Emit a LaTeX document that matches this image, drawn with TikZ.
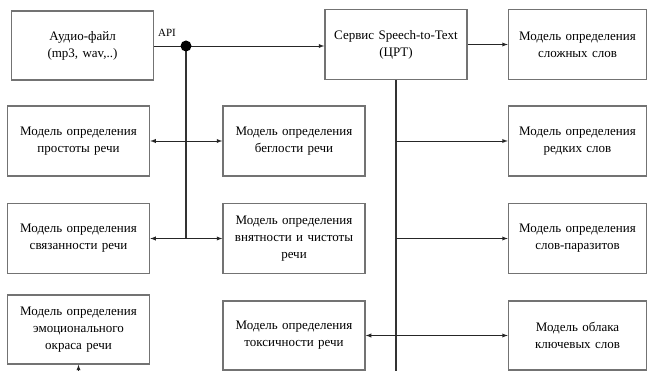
\documentclass[tikz,border=0pt]{standalone}
\usepackage{fontspec}
\setmainfont{Liberation Serif}
\usepackage{tikz}
\usetikzlibrary{arrows}
\usetikzlibrary{positioning}

\begin{document}
\begin{tikzpicture}[x=1pt,y=-1pt,>=latex,
			box/.style={rectangle,draw=black!55,line width=1.5pt,fill=white,
				minimum width=142pt,minimum height=70pt,text width=138pt,align=center,
				inner sep=2pt,font=\fontsize{13}{17}\selectfont},
			rbox/.style={box,minimum width=138pt,text width=134pt},
			bus/.style={draw=black!80,line width=1.6pt},
			link/.style={draw=black!85,line width=0.9pt}]
			\useasboundingbox (0,0) rectangle (649,371);
			
			\node[box] (simpl) at (78.5,141) {Модель определения\\простоты речи};
			\node[box] (fluency) [right=72pt of simpl] {Модель определения\\беглости речи};
			\node[rbox] (rare) [right=142pt of fluency] {Модель определения\\редких слов};
			\node[box] (coher) [below=26pt of simpl] {Модель определения\\связанности речи};
			\node[box] (clarity) [below=26pt of fluency] {Модель определения\\внятности и чистоты\\речи};
			\node[rbox] (paras) [below=26pt of rare] {Модель определения\\слов-паразитов};
			\node[box,minimum height=69pt] (emot) [below=20pt of coher] {Модель определения\\эмоционального\\окраса речи};
			\node[box,minimum height=69pt] (toxic) [below=26pt of clarity] {Модель определения\\токсичности речи};
			\node[rbox,minimum height=69pt] (cloud) [below=26pt of paras] {Модель облака\\ключевых слов};
			\node[rbox] (complex) [above=25pt of rare] {Модель определения\\сложных слов};
			\node[box] (speech) [left=40pt of complex] {Сервис Speech-to-Text\\(ЦРТ)};
			\node[box,minimum height=69pt] (audio) at (82.5,45.5) {Аудио-файл\\(mp3, wav,..)};
			
			% API bus
			\coordinate (api) at (186,46);
			\coordinate (sbot) at (speech.south |- 0,371);
			\coordinate (ebot) at (emot.south |- 0,371);
			\draw[link] (audio.east |- api) -- (api);
			\draw[link,->] (api) -- (speech.west |- api);
			\draw[bus] (api) -- (api |- coher.east);
			\fill (api) circle (5.5pt);
			\node[font=\fontsize{11}{13}\selectfont,inner sep=1pt] (apilbl) at (167,33) {API};
			\draw[link,<->] (simpl.east) -- (fluency.west);
			\draw[link,<->] (coher.east) -- (clarity.west);
			
			% speech bus
			\draw[link,->] (speech.east) -- (complex.west);
			\draw[bus] (speech.south) -- (sbot);
			\draw[link,->] (speech.south |- rare.west) -- (rare.west);
			\draw[link,->] (speech.south |- paras.west) -- (paras.west);
			\draw[link,<->] (toxic.east) -- (cloud.west);
			\draw[link,->] (ebot) -- (emot.south);
		\end{tikzpicture}
\end{document}
